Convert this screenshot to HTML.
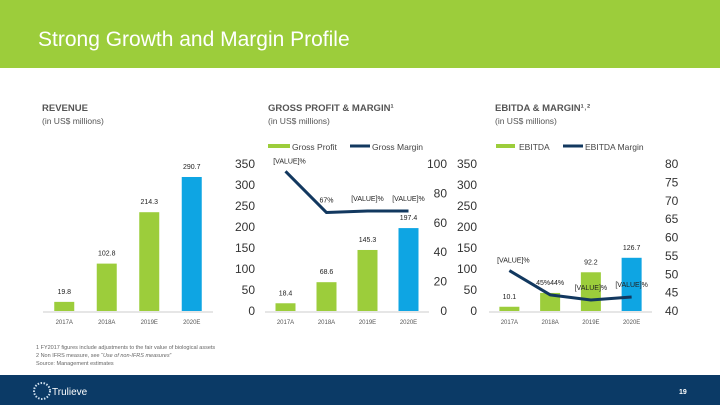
<!DOCTYPE html>
<html><head><meta charset="utf-8"><style>
html,body{margin:0;padding:0;width:720px;height:405px;overflow:hidden;background:#fff;font-family:"Liberation Sans",sans-serif}
svg{display:block}
</style></head><body>
<svg id="s" width="720" height="405" viewBox="0 0 720 405" xmlns="http://www.w3.org/2000/svg" font-family="Liberation Sans, sans-serif">
<rect x="0" y="0" width="720" height="68" fill="#9ccd3b"/>
<text x="38" y="46" font-size="21" fill="#fff">Strong Growth and Margin Profile</text>

<text x="42" y="111" font-size="9.5" font-weight="bold" fill="#555">REVENUE</text>
<text x="42" y="124" font-size="8.5" fill="#555">(in US$ millions)</text>
<text x="268" y="111" font-size="9.5" font-weight="bold" fill="#555">GROSS PROFIT &amp; MARGIN¹</text>
<text x="268" y="124" font-size="8.5" fill="#555">(in US$ millions)</text>
<text x="495" y="111" font-size="9.5" font-weight="bold" fill="#555">EBITDA &amp; MARGIN¹˒²</text>
<text x="495" y="124" font-size="8.5" fill="#555">(in US$ millions)</text>

<rect x="268" y="144" width="22" height="4" fill="#9ccd3b"/>
<text x="292" y="150" font-size="8.5" fill="#444">Gross Profit</text>
<line x1="350" y1="146" x2="370" y2="146" stroke="#12385f" stroke-width="3"/>
<text x="372" y="150" font-size="8.5" fill="#444">Gross Margin</text>
<rect x="496" y="144" width="19" height="4" fill="#9ccd3b"/>
<text x="519" y="150" font-size="8.5" fill="#444">EBITDA</text>
<line x1="563" y1="146" x2="583" y2="146" stroke="#12385f" stroke-width="3"/>
<text x="585" y="150" font-size="8.5" fill="#444">EBITDA Margin</text>

<g id="charts"></g>

<text x="36" y="349" font-size="5.5" fill="#666">1  FY2017 figures include adjustments to the fair value of biological assets</text>
<text x="36" y="357" font-size="5.5" fill="#666">2  Non IFRS measure, see “<tspan font-style="italic">Use of non-IFRS measures</tspan>”</text>
<text x="36" y="365" font-size="5.5" fill="#666">Source: Management estimates</text>

<rect x="0" y="375" width="720" height="30" fill="#0b3a66"/>
<circle cx="42" cy="391" r="8" fill="none" stroke="#cfe0ef" stroke-width="2" stroke-dasharray="1.5 1.5"/>
<text x="52" y="395" font-size="10" fill="#fff">Trulieve</text>
<text x="679" y="394" font-size="7" fill="#fff" font-weight="bold">19</text>
</svg>
<script>
const categories=["2017A","2018A","2019E","2020E"];
const revenueValues=[19.8,102.8,214.3,290.7];
const revenueLabels=["19.8","102.8","214.3","290.7"];
const grossProfitValues=[18.4,68.6,145.3,197.4];
const grossProfitLabels=["18.4","68.6","145.3","197.4"];
const grossMarginValues=[95,67,68,68];
const grossMarginLabels=["[VALUE]%","67%","[VALUE]%","[VALUE]%"];
const ebitdaValues=[10.1,43,92.2,126.7];
const ebitdaLabels=["10.1","","92.2","126.7"];
const ebitdaMarginValues=[51,44.4,43,43.8];
const ebitdaMarginLabels=["[VALUE]%","45%44%","[VALUE]%","[VALUE]%"];
const leftTicks=[0,50,100,150,200,250,300,350];
const gmTicks=[0,20,40,60,80,100];
const emTicks=[40,45,50,55,60,65,70,75,80];

const NS="http://www.w3.org/2000/svg";
const gChart=document.getElementById('charts');
function el(tag,attrs,txt){const e=document.createElementNS(NS,tag);for(const k in attrs)e.setAttribute(k,attrs[k]);if(txt!==undefined)e.textContent=txt;gChart.appendChild(e);return e;}
const GREEN="#9ccd3b",BLUE="#0ea5e3",NAVY="#12385f";
const AXIS_BASE=311,AXIS_TOP=164;
function yR(v){return AXIS_BASE-v*0.461;}
function yL(v){return AXIS_BASE-(v/350)*(AXIS_BASE-AXIS_TOP);}
function yGM(v){return AXIS_BASE-(v/100)*(AXIS_BASE-AXIS_TOP);}
function yEM(v){return AXIS_BASE-((v-40)/40)*(AXIS_BASE-AXIS_TOP);}

function chart(name,x0,x1,vals,labels,yf){
  const bw=(x1-x0)/4;
  const ax=el('line',{x1:x0,y1:AXIS_BASE+1,x2:x1,y2:AXIS_BASE+1,stroke:'#ccc','stroke-width':1});
  
  
  vals.forEach((v,i)=>{
    const cx=x0+bw*(i+0.5);
    const r=el('rect',{x:cx-10,y:yf(v),width:20,height:AXIS_BASE-yf(v),fill:i===3?BLUE:GREEN});
    
    
    if(labels[i]){const t=el('text',{x:cx,y:yf(v)-8,'font-size':7,'text-anchor':'middle',fill:'#222'},labels[i]);
    
    }
    const c=el('text',{x:cx,y:324,'font-size':6,'text-anchor':'middle',fill:'#555'},categories[i]);
    
    
  });
  return bw;
}
chart('revenue',43,213,revenueValues,revenueLabels,yR);
const gbw=chart('gross-profit',265,429,grossProfitValues,grossProfitLabels,yL);
const ebw=chart('ebitda',489,652,ebitdaValues,ebitdaLabels,yL);

leftTicks.forEach(v=>{
  const t=el('text',{x:255,y:yL(v)+4,'font-size':12,'text-anchor':'end',fill:'#333'},String(v));
  
  
  const t2=el('text',{x:477,y:yL(v)+4,'font-size':12,'text-anchor':'end',fill:'#333'},String(v));
  
  
});
gmTicks.forEach(v=>{
  const t=el('text',{x:447,y:yGM(v)+4,'font-size':12,'text-anchor':'end',fill:'#333'},String(v));
  
  
});
emTicks.forEach(v=>{
  const t=el('text',{x:665,y:yEM(v)+4,'font-size':12,fill:'#333'},String(v));
  
  
});

function line(name,x0,bw,vals,labels,yf){
  const pts=vals.map((v,i)=>[x0+bw*(i+0.5),yf(v)]);
  const p=el('polyline',{points:pts.map(p=>p.join(',')).join(' '),fill:'none',stroke:NAVY,'stroke-width':3,'stroke-linejoin':'round'});
  
  
  pts.forEach((pt,i)=>{
    const t=el('text',{x:pt[0]+(i===0?4:0),y:pt[1]-(i===0?8:10),'font-size':7,'text-anchor':'middle',fill:'#222'},labels[i]);
    
    
  });
}
line('gross-margin',265,gbw,grossMarginValues,grossMarginLabels,yGM);
line('ebitda-margin',489,ebw,ebitdaMarginValues,ebitdaMarginLabels,yEM);
</script>
</body></html>
